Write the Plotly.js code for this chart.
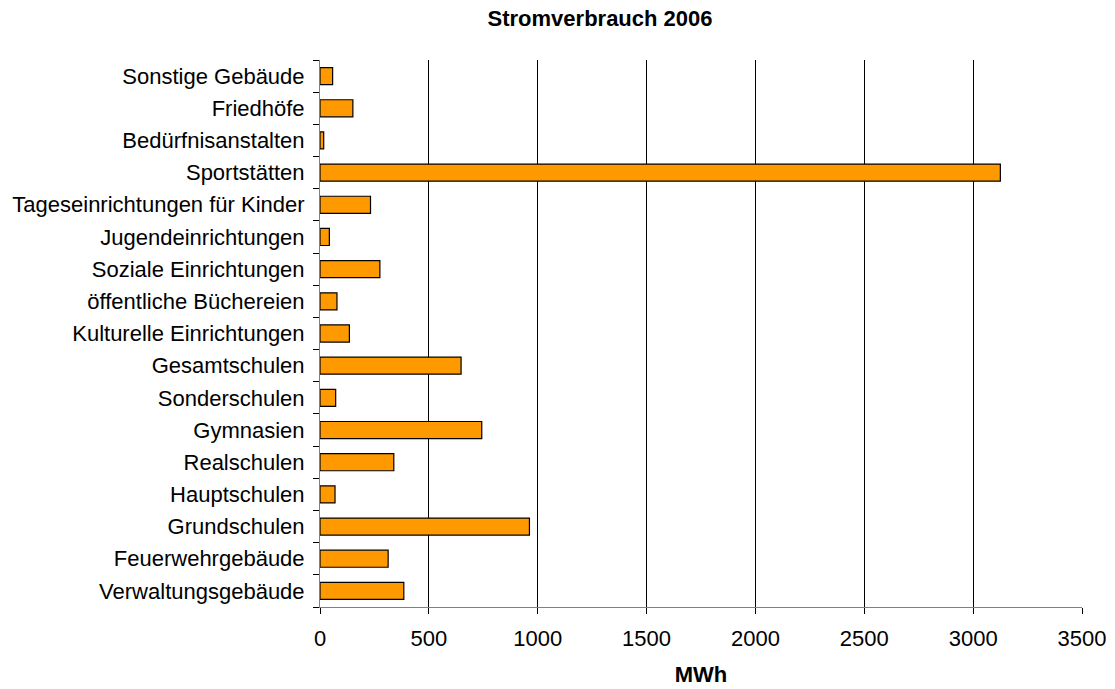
<!DOCTYPE html>
<html>
<head>
<meta charset="utf-8">
<script src="https://cdn.plot.ly/plotly-3.0.1.min.js"></script>
<style>html,body{margin:0;padding:0;background:#fff;}#chart{width:1115px;height:689px;}</style>
</head>
<body>
<div id="chart"></div>
<script>
const categories = [
  "Verwaltungsgebäude",
  "Feuerwehrgebäude",
  "Grundschulen",
  "Hauptschulen",
  "Realschulen",
  "Gymnasien",
  "Sonderschulen",
  "Gesamtschulen",
  "Kulturelle Einrichtungen",
  "öffentliche Büchereien",
  "Soziale Einrichtungen",
  "Jugendeinrichtungen",
  "Tageseinrichtungen für Kinder",
  "Sportstätten",
  "Bedürfnisanstalten",
  "Friedhöfe",
  "Sonstige Gebäude"
];
const values = [385, 313, 962, 69, 339, 743, 72, 648, 135, 78, 275, 43, 232, 3125, 17, 151, 58];
const xTicks = [0, 500, 1000, 1500, 2000, 2500, 3000, 3500];

const trace = {
  type: 'bar',
  orientation: 'h',
  x: values,
  y: categories,
  marker: {color: '#FF9900', line: {color: '#000000', width: 1.2}},
  hoverinfo: 'x+y'
};

const FONT = 'Arial, "Liberation Sans", sans-serif';

const layout = {
  width: 1115,
  height: 689,
  margin: {l: 320, r: 33, t: 60, b: 82},
  paper_bgcolor: '#ffffff',
  plot_bgcolor: '#ffffff',
  font: {family: FONT, size: 22, color: '#000'},
  title: {
    text: '<b>Stromverbrauch 2006</b>',
    font: {size: 22, family: FONT, color: '#000'},
    x: 0.3675, xanchor: 'center', xref: 'paper',
    y: 0.974, yanchor: 'middle'
  },
  bargap: 0.47,
  showlegend: false,
  xaxis: {
    range: [0, 3500],
    tickvals: xTicks,
    ticktext: xTicks.map(String),
    showgrid: true,
    gridcolor: '#000000',
    gridwidth: 1,
    zeroline: false,
    showline: true,
    linecolor: '#808080',
    linewidth: 1,
    ticks: 'outside',
    ticklen: 6,
    tickcolor: '#000',
    ticklabelstandoff: 6,
    tickfont: {size: 22},
    title: {text: '<b>MWh</b>', font: {size: 22}, standoff: 16}
  },
  yaxis: {
    type: 'category',
    categoryorder: 'array',
    categoryarray: categories,
    showgrid: false,
    zeroline: false,
    showline: true,
    linecolor: '#808080',
    linewidth: 1,
    ticks: 'outside',
    tickson: 'boundaries',
    ticklen: 6,
    tickcolor: '#000',
    ticklabelstandoff: 10,
    tickfont: {size: 22}
  }
};

Plotly.newPlot('chart', [trace], layout, {displayModeBar: false, staticPlot: true});
</script>
</body>
</html>
